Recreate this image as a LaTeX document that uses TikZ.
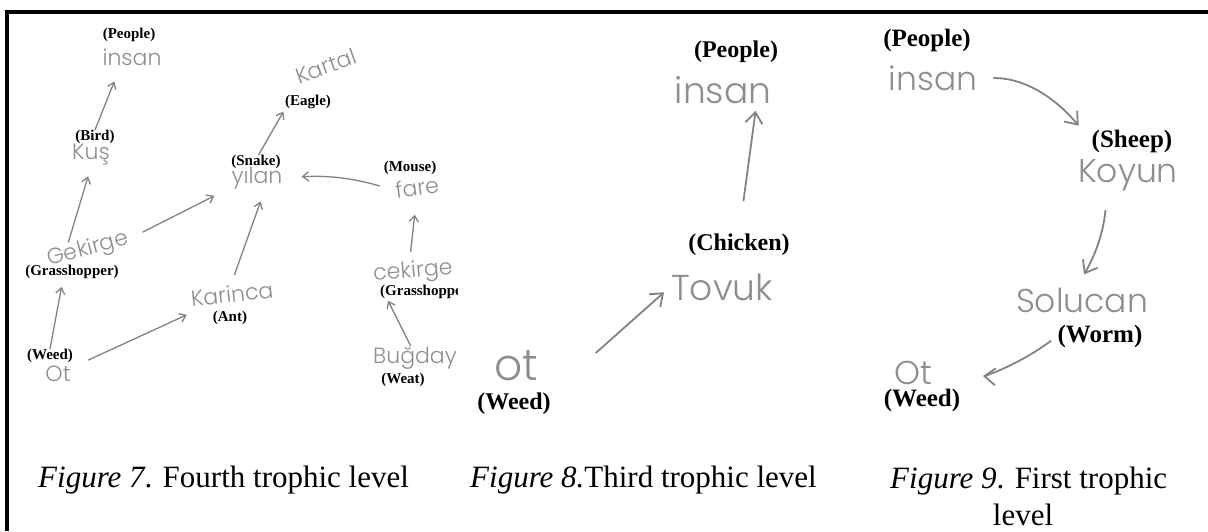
\documentclass[tikz,border=0pt]{standalone}
\usepackage{xcolor}
\usepackage{fontspec}
\usepackage{tikz}
\usetikzlibrary{arrows.meta}
\setmainfont{Liberation Serif}
\newfontfamily\handfont{Poppins}[UprightFont=* Light]
\definecolor{handgrey}{HTML}{8E8E8E}
\definecolor{arrowgrey}{HTML}{828282}
\tikzset{
  lab7/.style={font=\bfseries\fontsize{15}{15}\selectfont, inner sep=0pt},
  lab8/.style={font=\bfseries\fontsize{24}{24}\selectfont, inner sep=0pt},
  lab9/.style={font=\bfseries\fontsize{25}{25}\selectfont, inner sep=0pt},
  hand7/.style={text=handgrey, font=\handfont\fontsize{22}{22}\selectfont, inner sep=1pt},
  hand8/.style={text=handgrey, font=\handfont\fontsize{36}{36}\selectfont, inner sep=1pt},
  hand9/.style={text=handgrey, font=\handfont\fontsize{33}{33}\selectfont, inner sep=1pt},
  arr7/.style={-{Straight Barb[length=6pt, width=9pt]}, draw=arrowgrey, line width=1.3pt},
  arr/.style={-{Straight Barb[length=11pt, width=17pt]}, draw=arrowgrey, line width=1.8pt},
  caption/.style={font=\fontsize{31}{31}\selectfont, inner sep=0pt, anchor=base west}
}

\begin{document}
\begin{tikzpicture}[x=1pt, y=1pt]
        \useasboundingbox (0,0) rectangle (1208,-531);
        \draw[line width=4pt] (7,-531) -- (7,-12) -- (1208,-12);

        % Figure 7
        \node[lab7] at (129,-35) (p7lab) {(People)};
        \node[hand7] at (132,-57) (p7) {insan};
        \node[lab7] at (95,-137) (b7lab) {(Bird)};
        \node[hand7] at (91,-155) (b7) {Kuş};
        \node[hand7, rotate=15] at (88,-250) (g7) {Gekirge};
        \node[lab7] at (72,-272) (g7lab) {(Grasshopper)};
        \node[lab7] at (50,-356) (w7lab) {(Weed)};
        \node[hand7] at (58,-374) (w7) {Ot};
        \node[hand7, rotate=6] at (232,-294) (k7) {Karinca};
        \node[lab7] at (230,-318) (a7lab) {(Ant)};
        \node[lab7] at (256,-162) (s7lab) {(Snake)};
        \node[hand7] at (257,-178) (s7) {yılan};
        \node[lab7] at (308,-102) (e7lab) {(Eagle)};
        \node[hand7, rotate=20] at (326,-66) (e7) {Kartal};
        \node[lab7] at (410,-168) (m7lab) {(Mouse)};
        \node[hand7, rotate=8] at (417,-187) (m7) {fare};
        \node[hand7, rotate=5] at (413,-272) (c7) {cekirge};
        \begin{scope}
          \clip (370,-283) rectangle (457,-302);
          \node[lab7, anchor=west] at (380,-292) (c7lab) {(Grasshopper)};
        \end{scope}
        \node[hand7] at (415,-358) (bu7) {Buğday};
        \node[lab7] at (403,-380) (bu7lab) {(Weat)};

        \draw[arr7, shorten >=16pt] (b7lab.north) -- (p7.219);
        \draw[arr7, shorten >=10pt] (g7.144) -- (b7.south);
        \draw[arr7, shorten >=8pt] (w7lab.north) -- (g7lab.218);
        \draw[arr7, shorten <=18pt, shorten >=20pt] (w7) -- (k7);
        \draw[arr7, shorten <=10pt, shorten >=12pt] (k7.north) -- (s7.302);
        \draw[arr7, shorten <=15pt, shorten >=18pt] (g7.east) -- (s7.200);
        \draw[arr7, shorten >=3pt] (s7lab.70) -- (e7lab.south west);
        \draw[arr7, shorten <=15pt, shorten >=18pt] (m7.west) to[bend right=10] (s7.east);
        \draw[arr7, shorten <=8pt, shorten >=18pt] (c7.100) -- (m7.260);
        \draw[arr7, shorten >=2pt] (bu7.110) -- (c7lab.190);

        % Figure 8
        \node[lab8] at (736,-52) (p8lab) {(People)};
        \node[hand8] at (723,-90) (p8) {insan};
        \node[lab8] at (739,-245) (t8lab) {(Chicken)};
        \node[hand8] at (722,-287) (t8) {Tovuk};
        \node[hand8, font=\handfont\fontsize{44}{44}\selectfont] at (516,-366) (w8) {ot};
        \node[lab8] at (514,-404) (w8lab) {(Weed)};

        \draw[arr, shorten <=33pt, shorten >=6pt] (t8lab.north) -- (p8.-24);
        \draw[arr, shorten <=60pt, shorten >=8pt] (w8lab.north east) -- (t8.west);

        % Figure 9
        \node[lab9] at (927,-40) (p9lab) {(People)};
        \node[hand9] at (933,-78) (p9) {insan};
        \node[lab9] at (1132,-141) (k9lab) {(Sheep)};
        \node[hand9] at (1128,-175) (k9) {Koyun};
        \node[hand9] at (1082,-300) (s9) {Solucan};
        \node[lab9] at (1100,-336) (s9lab) {(Worm)};
        \node[hand9] at (913,-373) (o9) {Ot};
        \node[lab9] at (922,-400) (o9lab) {(Weed)};

        \draw[arr, shorten <=15pt, shorten >=20pt] (p9.east) to[out=0, in=130] (k9lab.west);
        \draw[arr, shorten <=18pt, shorten >=14pt] (k9.219) to[out=-95, in=60] (s9.110);
        \draw[arr, shorten <=8pt, shorten >=50pt] (s9lab.west) to[bend left=20] (o9.east);

        % captions
        \node[caption] at (38,-487) (cap7) {\textit{Figure 7}. Fourth trophic level};
        \node[caption] at (470,-487) (cap8) {\textit{Figure 8.}Third trophic level};
        \node[caption] at (890,-488) (cap9) {\textit{Figure 9}. First trophic};
        \node[caption, anchor=base] at (1023,-525) (cap9b) {level};
    \end{tikzpicture}
\end{document}
